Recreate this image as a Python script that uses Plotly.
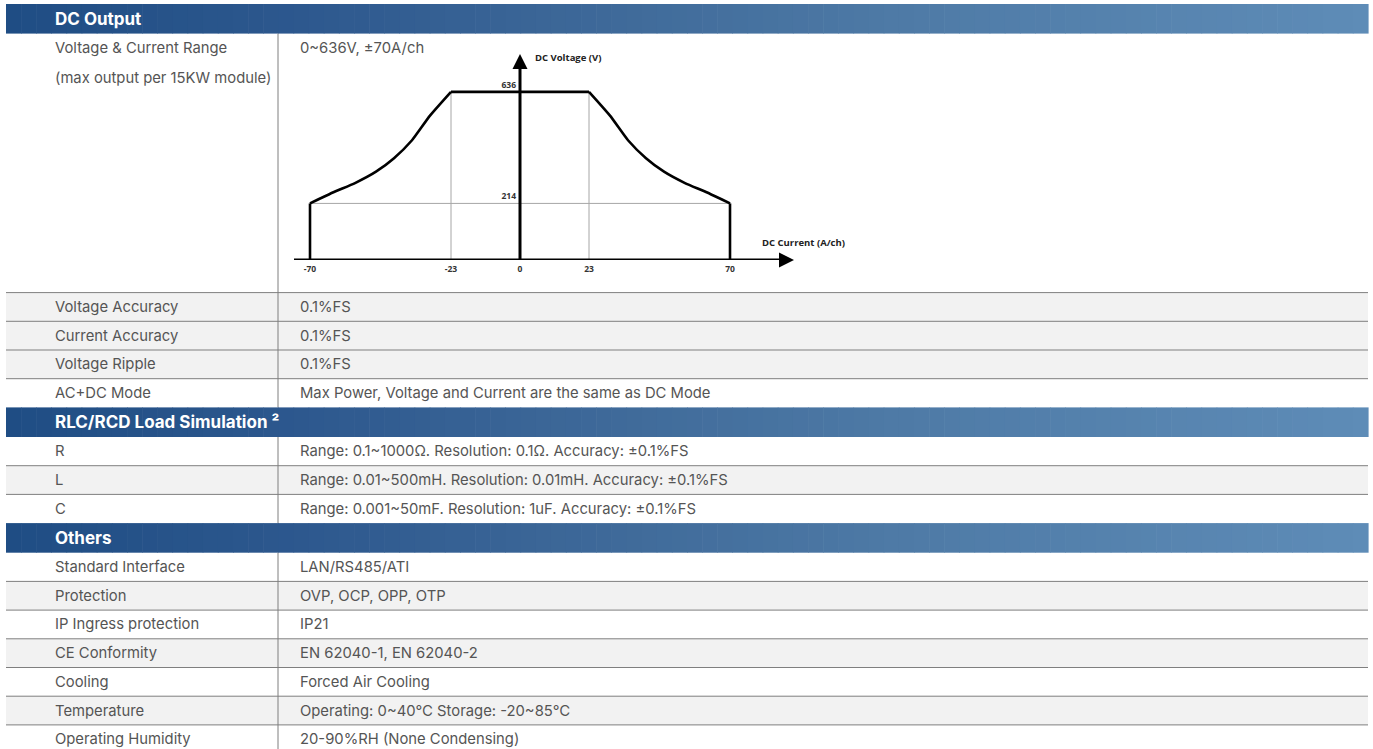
import plotly.graph_objects as go

# ---------------- data ----------------
section_titles = ["DC Output", "RLC/RCD Load Simulation ²", "Others"]

range_label = ["Voltage & Current Range", "(max output per 15KW module)"]
range_value = "0~636V, ±70A/ch"

dc_labels = ["Voltage Accuracy", "Current Accuracy", "Voltage Ripple", "AC+DC Mode"]
dc_values = ["0.1%FS", "0.1%FS", "0.1%FS",
             "Max Power, Voltage and Current are the same as DC Mode"]
dc_shaded = [True, True, True, False]

rlc_labels = ["R", "L", "C"]
rlc_values = ["Range: 0.1~1000Ω. Resolution: 0.1Ω. Accuracy: ±0.1%FS",
              "Range: 0.01~500mH. Resolution: 0.01mH. Accuracy: ±0.1%FS",
              "Range: 0.001~50mF. Resolution: 1uF. Accuracy: ±0.1%FS"]
rlc_shaded = [False, True, False]

other_labels = ["Standard Interface", "Protection", "IP Ingress protection",
                "CE Conformity", "Cooling", "Temperature", "Operating Humidity"]
other_values = ["LAN/RS485/ATI", "OVP, OCP, OPP, OTP", "IP21",
                "EN 62040-1, EN 62040-2", "Forced Air Cooling",
                "Operating: 0~40℃ Storage: -20~85℃", "20-90%RH (None Condensing)"]
other_shaded = [False, True, False, True, False, True, False]

# envelope of the DC output (current A/ch, voltage V)
curve_right_current = [23, 30, 36, 42, 48, 55, 62, 70]
curve_right_voltage = [636, 546, 453, 385, 334, 291, 257, 214]
curve_left_current = [-70, -62, -55, -48, -42, -36, -30, -23]
curve_left_voltage = [214, 257, 291, 334, 385, 453, 546, 636]
max_voltage = 636
knee_voltage = 214
knee_current = 23
max_current = 70
current_ticks = [-70, -23, 0, 23, 70]
voltage_ticks = [214, 636]

# ---------------- geometry helpers ----------------
W, H = 1373, 749
def px(x):
    return x / W
def py(y):
    return 1 - y / H

X0, X1 = 6, 1368
XDIV = 278
XL, XR = 52.5, 297.5
HEAD_H = 29.6
ROW_H = 28.7
BIG_H = 259.0
TOP = 4.0

TEXT_FONT = dict(family="Inter, Noto Sans, sans-serif", size=14.8, color="#555555")
HEAD_FONT = dict(family="Inter, Noto Sans, sans-serif", size=17, color="white")
LINE_COL = "#7f7f7f"
SHADE = "#f2f2f2"

shapes = []
annotations = []

grad_stops = [(6, (31, 77, 132)), (300, (45, 88, 142)), (600, (62, 105, 153)),
              (900, (78, 122, 166)), (1368, (94, 140, 183))]
def grad_color(x):
    for (xa, ca), (xb, cb) in zip(grad_stops[:-1], grad_stops[1:]):
        if xa <= x <= xb:
            t = (x - xa) / (xb - xa)
            c = [round(a + (b - a) * t) for a, b in zip(ca, cb)]
            return "rgb(%d,%d,%d)" % tuple(c)
    return "rgb(%d,%d,%d)" % grad_stops[-1][1]

def header(y, title):
    n = 90
    step = (X1 - X0) / n
    for i in range(n):
        xa = X0 + i * step
        shapes.append(dict(type="rect", xref="paper", yref="paper", layer="below",
                           x0=px(xa), x1=px(xa + step + 0.6), y0=py(y + HEAD_H), y1=py(y),
                           fillcolor=grad_color(xa + step / 2), line=dict(width=0)))
    annotations.append(dict(xref="paper", yref="paper", x=px(XL), y=py(y + HEAD_H / 2),
                            text="<b>%s</b>" % title, showarrow=False, xanchor="left",
                            yanchor="middle", font=HEAD_FONT))
    return y + HEAD_H

def rows(y, labels, values, shaded, first_line):
    for i, (lab, val, sh) in enumerate(zip(labels, values, shaded)):
        if sh:
            shapes.append(dict(type="rect", xref="paper", yref="paper", layer="below",
                               x0=px(X0), x1=px(X1), y0=py(y + ROW_H), y1=py(y),
                               fillcolor=SHADE, line=dict(width=0)))
        if i > 0 or first_line:
            shapes.append(dict(type="line", xref="paper", yref="paper", layer="below",
                               x0=px(X0), x1=px(X1), y0=py(y), y1=py(y),
                               line=dict(color=LINE_COL, width=1)))
        annotations.append(dict(xref="paper", yref="paper", x=px(XL), y=py(y + ROW_H / 2),
                                text=lab, showarrow=False, xanchor="left", yanchor="middle",
                                font=TEXT_FONT))
        annotations.append(dict(xref="paper", yref="paper", x=px(XR), y=py(y + ROW_H / 2),
                                text=val, showarrow=False, xanchor="left", yanchor="middle",
                                font=TEXT_FONT))
        y += ROW_H
    return y

def divider(ya, yb):
    shapes.append(dict(type="line", xref="paper", yref="paper", layer="below",
                       x0=px(XDIV), x1=px(XDIV), y0=py(ya), y1=py(yb),
                       line=dict(color=LINE_COL, width=1)))

y = TOP
y = header(y, section_titles[0])
sec_start = y
annotations.append(dict(xref="paper", yref="paper", x=px(XL), y=py(y + 14.5),
                        text=range_label[0], showarrow=False, xanchor="left",
                        yanchor="middle", font=TEXT_FONT))
annotations.append(dict(xref="paper", yref="paper", x=px(XL), y=py(y + 44.5),
                        text=range_label[1], showarrow=False, xanchor="left",
                        yanchor="middle", font=TEXT_FONT))
annotations.append(dict(xref="paper", yref="paper", x=px(XR), y=py(y + 14.5),
                        text=range_value, showarrow=False, xanchor="left",
                        yanchor="middle", font=TEXT_FONT))
y += BIG_H
y = rows(y, dc_labels, dc_values, dc_shaded, True)
divider(sec_start, y)
y = header(y, section_titles[1])
sec_start = y
y = rows(y, rlc_labels, rlc_values, rlc_shaded, False)
divider(sec_start, y)
y = header(y, section_titles[2])
sec_start = y
y = rows(y, other_labels, other_values, other_shaded, False)
divider(sec_start, y + 10)

# ---------------- chart ----------------
CX0, CX1 = 294, 800      # pixel extent of x domain
ORIGIN_X = 520
PX_PER_A = 3.0
CY_BOT, CY_TOP = 260, 50
PX_PER_V = 0.2644
x_range = [(CX0 - ORIGIN_X) / PX_PER_A, (CX1 - ORIGIN_X) / PX_PER_A]
y_range = [0, (CY_BOT - CY_TOP) / PX_PER_V]
def vx(p):
    return (p - ORIGIN_X) / PX_PER_A
def vy(p):
    return (CY_BOT - p) / PX_PER_V

fig = go.Figure()

# thin guide lines
guide_x = [-knee_current, -knee_current, None, knee_current, knee_current, None,
           -max_current, max_current]
guide_y = [0, max_voltage, None, 0, max_voltage, None, knee_voltage, knee_voltage]
fig.add_trace(go.Scatter(x=guide_x, y=guide_y, mode="lines",
                         line=dict(color="#a6a6a6", width=1), hoverinfo="skip"))

# envelope: straight parts
fig.add_trace(go.Scatter(
    x=[-max_current, -max_current, None, -knee_current, knee_current, None,
       max_current, max_current],
    y=[0, knee_voltage, None, max_voltage, max_voltage, None, knee_voltage, 0],
    mode="lines", line=dict(color="black", width=2.6), hoverinfo="skip"))
# envelope: curved constant-power parts
for cx, cy in [(curve_left_current, curve_left_voltage),
               (curve_right_current, curve_right_voltage)]:
    fig.add_trace(go.Scatter(x=cx, y=cy, mode="lines",
                             line=dict(color="black", width=2.6, shape="spline",
                                       smoothing=0.5), hoverinfo="skip"))

# axes with arrows
shapes.append(dict(type="line", xref="x", yref="y", x0=0, x1=0, y0=0, y1=vy(64),
                   line=dict(color="black", width=3)))
shapes.append(dict(type="line", xref="x", yref="y", x0=x_range[0], x1=vx(782), y0=0, y1=0,
                   line=dict(color="black", width=3)))
fig.add_trace(go.Scatter(x=[0], y=[vy(54)], mode="markers", cliponaxis=False,
                         marker=dict(symbol="arrow-up", size=15, color="black",
                                     line=dict(width=0)), hoverinfo="skip"))
fig.add_trace(go.Scatter(x=[vx(794)], y=[0], mode="markers", cliponaxis=False,
                         marker=dict(symbol="arrow-right", size=15, color="black",
                                     line=dict(width=0)), hoverinfo="skip"))

LBL_FONT = dict(family="Open Sans, Noto Sans, sans-serif", size=9.5, color="#222222")
annotations.append(dict(xref="paper", yref="paper", x=px(533), y=py(57),
                        text="<b>DC Voltage (V)</b>", showarrow=False, xanchor="left",
                        yanchor="middle", font=LBL_FONT))
annotations.append(dict(xref="paper", yref="paper", x=px(760), y=py(242),
                        text="<b>DC Current (A/ch)</b>", showarrow=False, xanchor="left",
                        yanchor="middle", font=LBL_FONT))

TICK_FONT = dict(family="Open Sans, Noto Sans, sans-serif", size=8.5, color="#333333",
                 weight="bold")

fig.update_layout(
    width=W, height=H, margin=dict(l=0, r=0, t=0, b=0),
    paper_bgcolor="white", plot_bgcolor="rgba(0,0,0,0)",
    showlegend=False, shapes=shapes, annotations=annotations,
    xaxis=dict(domain=[px(CX0), px(CX1)], range=x_range, showgrid=False,
               zeroline=False, showline=False, ticks="",
               tickvals=current_ticks, ticktext=[str(v) for v in current_ticks],
               tickfont=TICK_FONT, anchor="y", ticklabelstandoff=2, fixedrange=True),
    yaxis=dict(domain=[py(CY_BOT), py(CY_TOP)], range=y_range, showgrid=False,
               zeroline=False, showline=False, ticks="",
               tickvals=voltage_ticks, ticktext=[str(v) for v in voltage_ticks],
               tickfont=TICK_FONT, anchor="free", position=px(ORIGIN_X),
               ticklabelshift=-7, ticklabelstandoff=4, fixedrange=True),
)

fig.write_html("out.html", config={"displayModeBar": False},
               post_script="document.body.style.margin='0px';")
